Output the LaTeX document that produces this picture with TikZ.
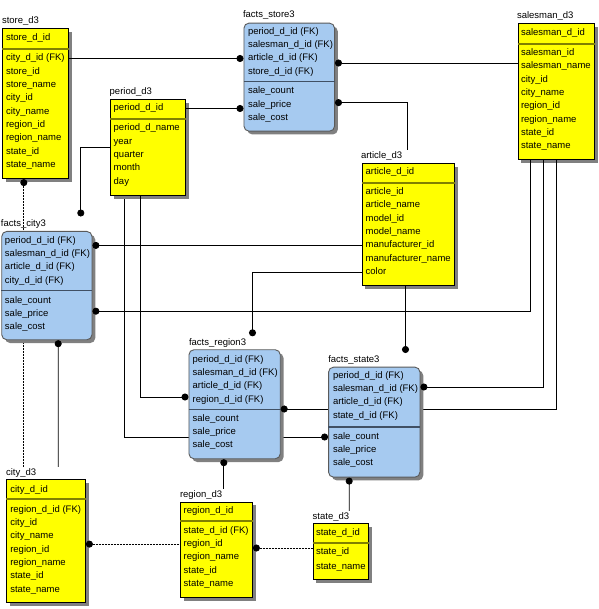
\documentclass[tikz,border=0pt]{standalone}
\usepackage{fontspec}
\setmainfont{Liberation Sans}
\usetikzlibrary{calc,arrows.meta,shadows}
\definecolor{dimyellow}{RGB}{255,255,0}
\definecolor{factblue}{RGB}{166,202,240}
\definecolor{factedge}{RGB}{90,90,90}
\definecolor{dimline}{RGB}{128,128,0}
\definecolor{factline}{RGB}{64,80,100}
\newcommand\tblfont{\fontsize{9.5}{11}\selectfont}
\pgfdeclarelayer{back}
\pgfsetlayers{back,main}
\tikzset{
	row/.style={anchor=base west, inner sep=0pt, font=\tblfont, text height=7pt, text depth=2pt},
	tbllabel/.style={row, inner sep=1pt},
	boxshadow/.style={drop shadow={shadow xshift=3.3pt, shadow yshift=-3.3pt, fill=black!50, opacity=1}},
	dimbox/.style={anchor=north west, inner sep=0pt, draw=black, fill=dimyellow, line width=0.8pt, boxshadow},
	factbox/.style={anchor=north west, inner sep=0pt, draw=factedge, fill=factblue, line width=0.9pt, rounded corners=5pt, boxshadow},
	dimsep/.style={draw=dimline, line width=1.7pt},
	factsep/.style={draw=factline, line width=1.4pt},
	link/.style={line width=0.8pt},
	optlink/.style={link, dash pattern=on 2pt off 1pt},
	fkdot/.tip={Circle[length=7pt]}
}

\begin{document}
\begin{tikzpicture}[x=1pt,y=-1pt]
			%%%%% START %%%%%
			
			\begin{pgfonlayer}{back}
			\path[fill=white, use as bounding box] (0,0) rectangle (598,609);
			\end{pgfonlayer}
			
			\node[dimbox, minimum width=66, minimum height=150] (store) at (1.5,28.3) {};
			\node[tbllabel] (store-lbl) at (0,24) {store\_d3};
			\draw[dimsep] ($(store.north west)+(0,20.7)$) -- ($(store.north east)+(0,20.7)$);
			\node[row] (store-0) at (5,40.7) {store\_d\_id};
			\node[row] (store-1) at (5,61) {city\_d\_id (FK)};
			\node[row] (store-2) at (5,74.3) {store\_id};
			\node[row] (store-3) at (5,87.6) {store\_name};
			\node[row] (store-4) at (5,100.9) {city\_id};
			\node[row] (store-5) at (5,114.2) {city\_name};
			\node[row] (store-6) at (5,127.5) {region\_id};
			\node[row] (store-7) at (5,140.8) {region\_name};
			\node[row] (store-8) at (5,154.1) {state\_id};
			\node[row] (store-9) at (5,167.4) {state\_name};
			
			\node[dimbox, minimum width=75, minimum height=95.7] (period) at (109.3,99.3) {};
			\node[tbllabel] (period-lbl) at (107.7,95) {period\_d3};
			\draw[dimsep] ($(period.north west)+(0,19.7)$) -- ($(period.north east)+(0,19.7)$);
			\node[row] (period-0) at (112.7,111) {period\_d\_id};
			\node[row] (period-1) at (112.7,131) {period\_d\_name};
			\node[row] (period-2) at (112.7,144.3) {year};
			\node[row] (period-3) at (112.7,157.6) {quarter};
			\node[row] (period-4) at (112.7,170.9) {month};
			\node[row] (period-5) at (112.7,184.2) {day};
			
			\node[factbox, minimum width=90.6, minimum height=108] (fstore) at (242.7,22.7) {};
			\node[tbllabel] (fstore-lbl) at (241,18) {facts\_store3};
			\draw[factsep] ($(fstore.north west)+(0,59)$) -- ($(fstore.north east)+(0,59)$);
			\node[row] (fstore-1) at (247,34.3) {period\_d\_id (FK)};
			\node[row] (fstore-2) at (247,47.6) {salesman\_d\_id (FK)};
			\node[row] (fstore-3) at (247,60.9) {article\_d\_id (FK)};
			\node[row] (fstore-4) at (247,74.2) {store\_d\_id (FK)};
			\node[row] (fstore-5) at (247,94) {sale\_count};
			\node[row] (fstore-6) at (247,107.3) {sale\_price};
			\node[row] (fstore-7) at (247,120.6) {sale\_cost};
			
			\node[dimbox, minimum width=76.6, minimum height=135.7] (salesman) at (516.7,23.3) {};
			\node[tbllabel] (salesman-lbl) at (515,18.7) {salesman\_d3};
			\draw[dimsep] ($(salesman.north west)+(0,20.4)$) -- ($(salesman.north east)+(0,20.4)$);
			\node[row] (salesman-0) at (520,35.7) {salesman\_d\_id};
			\node[row] (salesman-1) at (520,55.7) {salesman\_id};
			\node[row] (salesman-2) at (520,69) {salesman\_name};
			\node[row] (salesman-3) at (520,82.3) {city\_id};
			\node[row] (salesman-4) at (520,95.6) {city\_name};
			\node[row] (salesman-5) at (520,108.9) {region\_id};
			\node[row] (salesman-6) at (520,122.2) {region\_name};
			\node[row] (salesman-7) at (520,135.5) {state\_id};
			\node[row] (salesman-8) at (520,148.8) {state\_name};
			
			\node[dimbox, minimum width=92.6, minimum height=121.7] (article) at (360.7,163.3) {};
			\node[tbllabel] (article-lbl) at (359,158.7) {article\_d3};
			\draw[dimsep] ($(article.north west)+(0,19.4)$) -- ($(article.north east)+(0,19.4)$);
			\node[row] (article-0) at (364.7,175) {article\_d\_id};
			\node[row] (article-1) at (364.7,194.7) {article\_id};
			\node[row] (article-2) at (364.7,208) {article\_name};
			\node[row] (article-3) at (364.7,221.3) {model\_id};
			\node[row] (article-4) at (364.7,234.6) {model\_name};
			\node[row] (article-5) at (364.7,247.9) {manufacturer\_id};
			\node[row] (article-6) at (364.7,261.2) {manufacturer\_name};
			\node[row] (article-7) at (364.7,274.5) {color};
			
			\node[dimbox, minimum width=79, minimum height=123] (city) at (5.3,479.3) {};
			\node[tbllabel] (city-lbl) at (4,475.3) {city\_d3};
			\draw[dimsep] ($(city.north west)+(0,20)$) -- ($(city.north east)+(0,20)$);
			\node[row] (city-0) at (9.3,492) {city\_d\_id};
			\node[row] (city-1) at (9.3,512.3) {region\_d\_id (FK)};
			\node[row] (city-2) at (9.3,525.6) {city\_id};
			\node[row] (city-3) at (9.3,538.9) {city\_name};
			\node[row] (city-4) at (9.3,552.2) {region\_id};
			\node[row] (city-5) at (9.3,565.5) {region\_name};
			\node[row] (city-6) at (9.3,578.8) {state\_id};
			\node[row] (city-7) at (9.3,592.1) {state\_name};
			
			\node[dimbox, minimum width=72, minimum height=95.6] (region) at (179.3,501.7) {};
			\node[tbllabel] (region-lbl) at (178,497) {region\_d3};
			\draw[dimsep] ($(region.north west)+(0,19.3)$) -- ($(region.north east)+(0,19.3)$);
			\node[row] (region-0) at (182.7,513) {region\_d\_id};
			\node[row] (region-1) at (182.7,533.3) {state\_d\_id (FK)};
			\node[row] (region-2) at (182.7,546.6) {region\_id};
			\node[row] (region-3) at (182.7,559.9) {region\_name};
			\node[row] (region-4) at (182.7,573.2) {state\_id};
			\node[row] (region-5) at (182.7,586.5) {state\_name};
			
			\node[dimbox, minimum width=55.6, minimum height=55.7] (state) at (311.7,523.3) {};
			\node[tbllabel] (state-lbl) at (310.7,519) {state\_d3};
			\draw[dimsep] ($(state.north west)+(0,20)$) -- ($(state.north east)+(0,20)$);
			\node[row] (state-0) at (315,535.7) {state\_d\_id};
			\node[row] (state-1) at (315,554.7) {state\_id};
			\node[row] (state-2) at (315,569) {state\_name};
			
			\coordinate (store-col) at ($(store.south west)+(21.5,0)$);
			\draw[optlink, fkdot-] (store-col) -- (store-col |- city-lbl.north);
			
			\node[factbox, minimum width=90.2, minimum height=108.3] (fcity) at (0.5,231) {};
			\node[tbllabel] (fcity-lbl) at (-1,227) {facts\_city3};
			\draw[factsep] ($(fcity.north west)+(0,59.3)$) -- ($(fcity.north east)+(0,59.3)$);
			\node[row] (fcity-1) at (4,243.3) {period\_d\_id (FK)};
			\node[row] (fcity-2) at (4,256.6) {salesman\_d\_id (FK)};
			\node[row] (fcity-3) at (4,269.9) {article\_d\_id (FK)};
			\node[row] (fcity-4) at (4,283.2) {city\_d\_id (FK)};
			\node[row] (fcity-5) at (4,303) {sale\_count};
			\node[row] (fcity-6) at (4,316.3) {sale\_price};
			\node[row] (fcity-7) at (4,329.6) {sale\_cost};
			
			\node[factbox, minimum width=91.3, minimum height=109] (fregion) at (187.7,349.3) {};
			\node[tbllabel] (fregion-lbl) at (187,345) {facts\_region3};
			\draw[factsep] ($(fregion.north west)+(0,60)$) -- ($(fregion.north east)+(0,60)$);
			\node[row] (fregion-1) at (191.7,362.3) {period\_d\_id (FK)};
			\node[row] (fregion-2) at (191.7,375.6) {salesman\_d\_id (FK)};
			\node[row] (fregion-3) at (191.7,388.9) {article\_d\_id (FK)};
			\node[row] (fregion-4) at (191.7,402.2) {region\_d\_id (FK)};
			\node[row] (fregion-5) at (191.7,421) {sale\_count};
			\node[row] (fregion-6) at (191.7,434.3) {sale\_price};
			\node[row] (fregion-7) at (191.7,447.6) {sale\_cost};
			
			\draw[link, -fkdot] ($(salesman.south west)+(39.3,0)$) |- ($(fregion.north east)+(0,59.7)$);
			
			\node[factbox, minimum width=91.4, minimum height=110] (fstate) at (327.3,366.7) {};
			\node[tbllabel] (fstate-lbl) at (326.3,362) {facts\_state3};
			\draw[factsep] ($(fstate.north west)+(0,60.3)$) -- ($(fstate.north east)+(0,60.3)$);
			\node[row] (fstate-1) at (332,378.3) {period\_d\_id (FK)};
			\node[row] (fstate-2) at (332,391.6) {salesman\_d\_id (FK)};
			\node[row] (fstate-3) at (332,404.9) {article\_d\_id (FK)};
			\node[row] (fstate-4) at (332,418.2) {state\_d\_id (FK)};
			\node[row] (fstate-5) at (332,439) {sale\_count};
			\node[row] (fstate-6) at (332,452.3) {sale\_price};
			\node[row] (fstate-7) at (332,465.6) {sale\_cost};
			
			\begin{pgfonlayer}{back}
			\draw[link, -fkdot] ($(period.south west)+(14.1,0)$) |- ($(fstate.north west)+(0,70.3)$);
			\end{pgfonlayer}
			
			\draw[link, -fkdot] (store.east |- store-1) -- (fstore.west |- store-1);
			\draw[link, -fkdot] (period.east |- period-0) -- (fstore.west |- period-0);
			\draw[link, -fkdot] ($(salesman.north west)+(0,39.7)$) -- ($(fstore.north east)+(0,40.3)$);
			\draw[link, fkdot-] ($(fstore.south east)+(0,-29)$) -| ($(article-lbl.north west)+(48,0)$);
			
			\draw[link, -fkdot] ($(period.north west)+(0,47.7)$) -| ($(fcity.north west)+(79.5,-14.5)$);
			\draw[link, -fkdot] ($(period.south west)+(30.7,0)$) |- ($(fregion.north west)+(0,47.7)$);
			
			\draw[link, -fkdot] (article.west |- article-5) -- (fcity.east |- article-5);
			\draw[link, -fkdot] ($(salesman.south west)+(13.3,0)$) |- ($(fcity.south east)+(0,-29)$);
			\draw[link, -fkdot] (article.west |- article-7) -| ($(fregion.north west)+(64,-13)$);
			\draw[link, -fkdot] ($(article.south west)+(44,0)$) -- ($(fstate.north west)+(77.4,-13.7)$);
			\draw[link, -fkdot] ($(salesman.south west)+(26.3,0)$) |- ($(fstate.north east)+(0,20.3)$);
			
			\draw[link, fkdot-] ($(fcity.south west)+(56.9,0)$) -- ($(city.north west)+(52.1,-12.5)$);
			\draw[link, fkdot-] ($(fregion.south west)+(35.3,0)$) -- ($(region.north west)+(43.7,-12.5)$);
			\draw[link, fkdot-] ($(fstate.south west)+(21.1,0)$) -- ($(state.north west)+(36.7,-12.5)$);
			
			\draw[optlink, fkdot-] (city.east |- region-2) -- (region.west |- region-2);
			\draw[optlink, fkdot-] ($(region.north east)+(0,46.3)$) -- ($(state.north west)+(0,24.7)$);
			
			%%%%% END %%%%%
\end{tikzpicture}
\end{document}
